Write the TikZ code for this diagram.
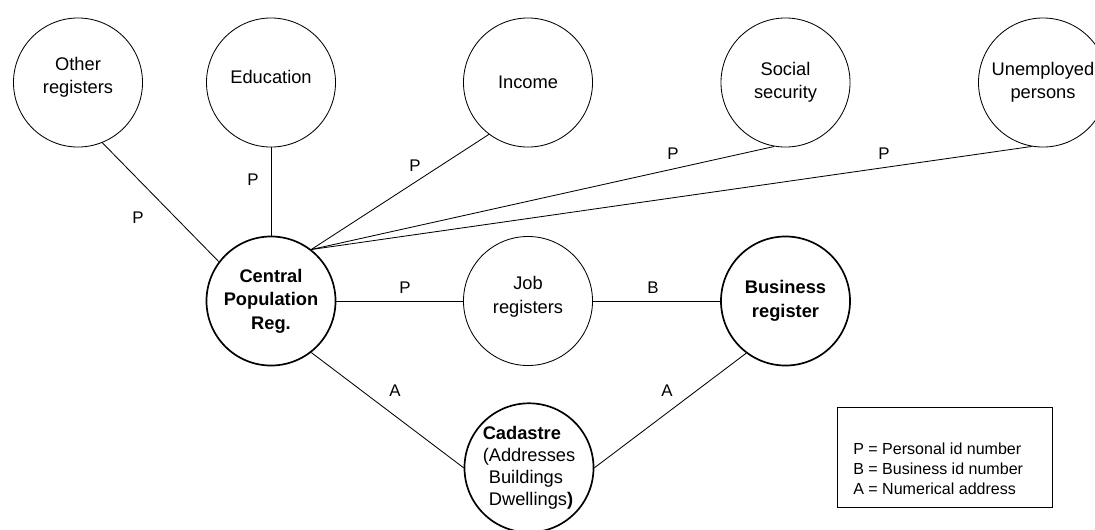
\documentclass[tikz,border=0pt]{standalone}
\usepackage{fontspec}
\setmainfont{Liberation Sans}
\usepackage{tikz}

\begin{document}
\begin{tikzpicture}[x=0.025cm,y=-0.025cm,
    reg/.style={circle,draw,line width=0.6pt,minimum size=3.225cm,inner sep=0pt,
        align=center,font=\fontsize{13}{16.7}\selectfont},
    mainreg/.style={reg,line width=1.2pt,font=\fontsize{13}{16.7}\selectfont\bfseries},
    lift/.style={text depth=#1},
    link/.style={line width=0.6pt},
    lbl/.style={font=\fontsize{12}{14}\selectfont,inner sep=0pt},
    key/.style={font=\fontsize{11.4}{14.2}\selectfont,align=left,inner sep=0pt}]
    \useasboundingbox (0,0) rectangle (1095,529);
    \clip (0,0) rectangle (1095,529);

    % outer registers, top row
    \node[reg,lift=0.355cm] (other) at (78,82.5) {Other\\registers};
    \node[reg,lift=0.265cm] (education) at (271,82.5) {Education};
    \node[reg] (income) at (528,82.5) {Income};
    \node[reg] (social) at (785.5,82.5) {Social\\security};
    \node[reg] (unemployed) at (1043,82.5) {Unemployed\\persons};

    % middle row
    \node[mainreg] (central) at (271,301) {Central\\Population\\Reg.};
    \node[reg,lift=0.31cm] (job) at (528,301) {Job\\registers};
    \node[mainreg] (business) at (785.5,301) {Business\\register};

    % address register
    \node[reg,line width=1.2pt,align=left,font=\fontsize{13}{15.6}\selectfont] (cadastre) at (529,467.8)
        {\textbf{Cadastre}\\(Addresses\\\hphantom{(}Buildings\\\hphantom{(}Dwellings\textbf{)}};

    % links
    \draw[link] (other.-68) -- (central.143);
    \draw[link] (education.south) -- (central.north);
    \draw[link] (income.-127) -- (central.52);
    \draw[link] (social.-100) -- (central.52);
    \draw[link] (unemployed.-100) -- (central.52);
    \draw[link] (central.east) -- (job.west);
    \draw[link] (job.east) -- (business.west);
    \draw[link] (central.-52) -- (cadastre.west);
    \draw[link] (business.-127) -- (cadastre.east);

    % link keys
    \node[lbl] (kOther) at (138,218) {P};
    \node[lbl] (kEducation) at (253,180) {P};
    \node[lbl] (kIncome) at (415,166) {P};
    \node[lbl] (kSocial) at (673,154) {P};
    \node[lbl] (kUnemployed) at (884,154) {P};
    \node[lbl] (kJob) at (405,288) {P};
    \node[lbl] (kBusiness) at (653,288) {B};
    \node[lbl] (kCadL) at (395,391) {A};
    \node[lbl] (kCadR) at (667,391) {A};

    % legend
    \node[draw,line width=0.6pt,minimum width=5.375cm,minimum height=2.5cm,inner sep=0pt] (legend) at (944.5,457) {};
    \node[key,anchor=west] (legendtext) at (853,469)
        {P = Personal id number\\B = Business id number\\A = Numerical address};
\end{tikzpicture}
\end{document}
